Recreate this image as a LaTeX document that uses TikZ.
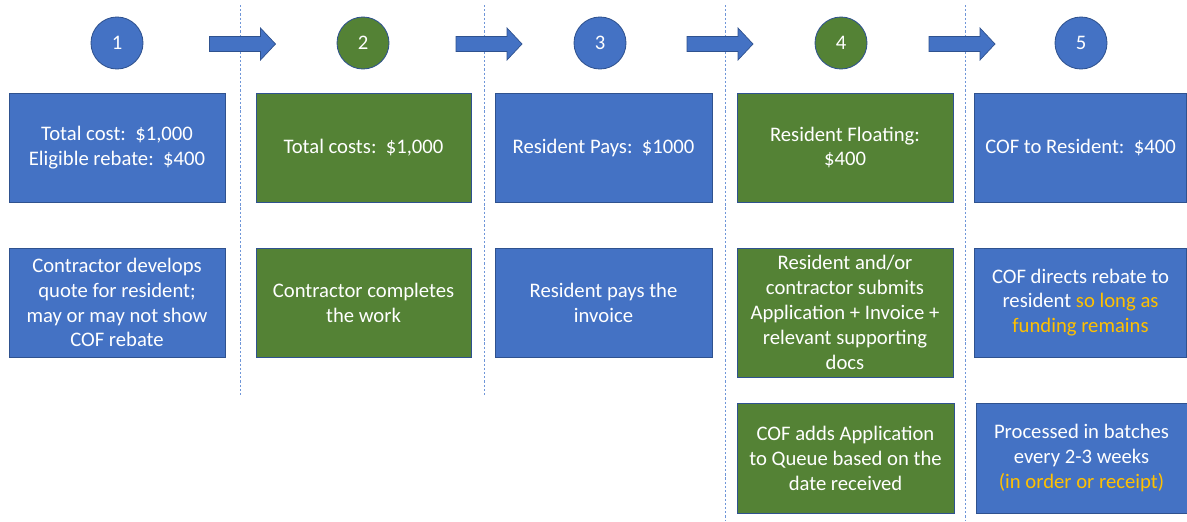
\documentclass[tikz,border=0pt]{standalone}
\usepackage{fontspec}
\setmainfont{Carlito}

\definecolor{stepblue}{HTML}{4472C4}
\definecolor{stepgreen}{HTML}{548235}
\definecolor{edgeblue}{HTML}{2F528F}
\definecolor{notegold}{HTML}{FFC000}
\definecolor{divider}{HTML}{6F96D8}

\tikzstyle{box}=[rectangle, draw=edgeblue, line width=0.6pt,
                 text=white, align=center, inner sep=0pt,
                 font=\fontsize{14.7}{17.7}\selectfont]
\tikzstyle{stepnum}=[circle, draw=edgeblue, line width=0.6pt,
                     text=white, minimum size=1.3cm, inner sep=0pt,
                     font=\fontsize{14.7}{17.7}\selectfont]
\tikzstyle{next}=[draw=edgeblue, fill=stepblue, line width=0.5pt, line join=miter]

\begin{document}
\begin{tikzpicture}[x=0.025cm, y=-0.025cm]
  \useasboundingbox (0, 0) rectangle (1187, 521);

  %%%%%%%%%%%%%%%%%%%%%%%%%%%%%%
  % dividers
  \coordinate (d1_top) at (240, 5);
  \coordinate (d1_bot) at (240, 395);
  \coordinate (d2_top) at (484, 5);
  \coordinate (d2_bot) at (484, 395);
  \coordinate (d3_top) at (725, 5);
  \coordinate (d3_bot) at (725, 521);
  \coordinate (d4_top) at (965, 5);
  \coordinate (d4_bot) at (965, 521);
  \foreach \d in {d1, d2, d3, d4}
    \draw [divider, line width=0.7pt, dash pattern=on 1.6pt off 1.4pt] (\d_top) -- (\d_bot);

  %%%%%%%%%%%%%%%%%%%%%%%%%%%%%%
  % step numbers
  \node (n1) at (117, 43) [stepnum, fill=stepblue] {1};
  \node (n2) at (363, 43) [stepnum, fill=stepgreen] {2};
  \node (n3) at (600, 43) [stepnum, fill=stepblue] {3};
  \node (n4) at (841, 43) [stepnum, fill=stepgreen] {4};
  \node (n5) at (1081, 43) [stepnum, fill=stepblue] {5};

  % block arrows between steps
  \foreach \name/\cx in {a12/242.5, a23/489, a34/720, a45/962} {
    \coordinate (\name) at (\cx, 44);
    \draw [next] (\name) ++(-33, -7.5) -- ++(51, 0) -- ++(0, -8.5)
      -- ++(15, 16) -- ++(-15, 16) -- ++(0, -8.5) -- ++(-51, 0) -- cycle;
  }

  %%%%%%%%%%%%%%%%%%%%%%%%%%%%%%
  % amounts
  \node (cost1) at (117, 147.5) [box, fill=stepblue, minimum width=5.4cm, minimum height=2.725cm]
    {Total cost:\ \ \$1,000\\Eligible rebate:\ \ \$400};
  \node (cost2) at (363.5, 147.5) [box, fill=stepgreen, minimum width=5.375cm, minimum height=2.725cm]
    {Total costs:\ \ \$1,000};
  \node (cost3) at (603.5, 147.5) [box, fill=stepblue, minimum width=5.425cm, minimum height=2.725cm]
    {Resident Pays:\ \ \$1000};
  \node (cost4) at (845, 147.5) [box, fill=stepgreen, minimum width=5.4cm, minimum height=2.725cm]
    {Resident Floating:\\\$400};
  \node (cost5) at (1080.5, 147.5) [box, fill=stepblue, minimum width=5.3cm, minimum height=2.725cm]
    {COF to Resident:\ \ \$400};

  %%%%%%%%%%%%%%%%%%%%%%%%%%%%%%
  % actions
  \node (act1) at (117, 302.5) [box, fill=stepblue, minimum width=5.4cm, minimum height=2.725cm]
    {Contractor develops\\quote for resident;\\may or may not show\\COF rebate};
  \node (act2) at (363.5, 302.5) [box, fill=stepgreen, minimum width=5.375cm, minimum height=2.725cm]
    {Contractor completes\\the work};
  \node (act3) at (603.5, 302.5) [box, fill=stepblue, minimum width=5.425cm, minimum height=2.725cm]
    {Resident pays the\\invoice};
  \node (act4) at (845, 312.5) [box, fill=stepgreen, minimum width=5.4cm, minimum height=3.225cm]
    {Resident and/or\\contractor submits\\Application + Invoice +\\relevant supporting\\docs};
  \node (act5) at (1080.5, 302.5) [box, fill=stepblue, minimum width=5.3cm, minimum height=2.725cm]
    {COF directs rebate to\\resident \textcolor{notegold}{so long as}\\\textcolor{notegold}{funding remains}};

  % follow-up
  \node (queue4) at (845.5, 458) [box, fill=stepgreen, minimum width=5.425cm, minimum height=2.75cm]
    {COF adds Application\\to Queue based on the\\date received};
  \node (batch5) at (1081.5, 458) [box, fill=stepblue, minimum width=5.275cm, minimum height=2.75cm]
    {Processed in batches\\every 2-3 weeks\\\textcolor{notegold}{(in order or receipt)}};

\end{tikzpicture}
\end{document}
